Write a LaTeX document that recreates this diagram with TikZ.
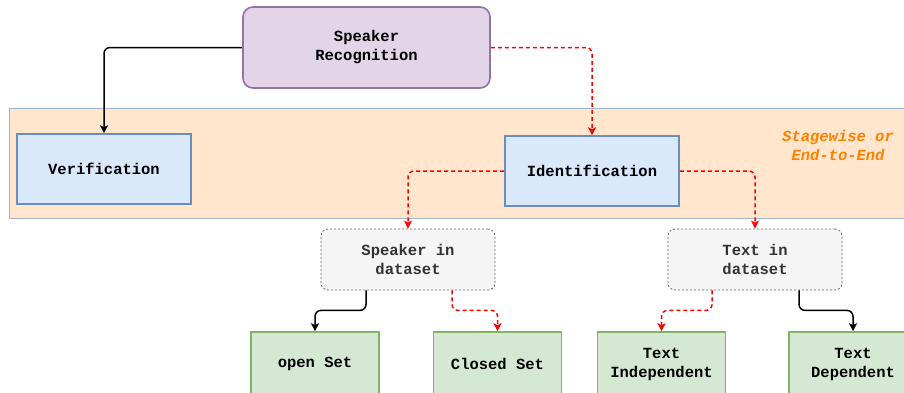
\documentclass[tikz,border=0pt]{standalone}
\usepackage{fontspec}
\setmonofont{Liberation Mono}
\usetikzlibrary{arrows.meta,calc}
\definecolor{srfill}{HTML}{E1D5E7}
\definecolor{srline}{HTML}{9673A6}
\definecolor{bandfill}{HTML}{FFE6CC}
\definecolor{bandline}{HTML}{A3B5C9}
\definecolor{bluefill}{HTML}{DAE8FC}
\definecolor{blueline}{HTML}{6C8EBF}
\definecolor{grayfill}{HTML}{F5F5F5}
\definecolor{grayline}{HTML}{666666}
\definecolor{graytext}{HTML}{333333}
\definecolor{greenfill}{HTML}{D5E8D4}
\definecolor{greenline}{HTML}{82B366}
\definecolor{orangetext}{HTML}{FF8000}
\definecolor{redline}{HTML}{FF0000}
\begin{document}
\begin{tikzpicture}[x=1pt,y=-1pt,
  font=\ttfamily\bfseries\fontsize{15.5}{19}\selectfont,
  basebox/.style={draw, line width=1.6pt, inner sep=0pt, align=center},
  purplebox/.style={basebox, fill=srfill, draw=srline, rounded corners=10pt, minimum width=247pt, minimum height=81pt},
  bluebox/.style={basebox, fill=bluefill, draw=blueline, minimum width=174pt, minimum height=70pt},
  graybox/.style={basebox, fill=grayfill, draw=grayline, line width=0.8pt, dash pattern=on 2pt off 2pt, rounded corners=7pt, minimum width=174pt, minimum height=61pt, text=graytext},
  greenbox/.style={basebox, fill=greenfill, draw=greenline, minimum width=128pt, minimum height=64pt},
  conn/.style={line width=1.5pt, rounded corners=6pt, -{Stealth[length=8pt,width=8pt,inset=2pt]}},
  blk/.style={conn, draw=black},
  rdash/.style={conn, draw=redline, dash pattern=on 4pt off 3pt, -{Stealth[length=8pt,width=8pt,inset=2pt,fill=redline]}},
]
\useasboundingbox (0,0) rectangle (904,392);
\fill[white] (0,0) rectangle (904,392);
% band
\filldraw[fill=bandfill, draw=bandline, line width=1pt] (9,108) rectangle (910,218);
% nodes
\node[purplebox] (sr) at (366.5,47.5) {Speaker\\Recognition};
\node[bluebox] (ver) at (104,169) {Verification};
\node[bluebox] (id) at (592,171) {Identification};
\node[font=\ttfamily\bfseries\itshape\fontsize{15.5}{19}\selectfont, text=orangetext, align=center] (sw) at (838,145) {Stagewise or\\End-to-End};
\node[graybox] (sd) at (408,259.5) {Speaker in\\dataset};
\node[graybox] (td) at (755,259.5) {Text in\\dataset};
\node[greenbox] (open) at (315,364) {open Set};
\node[greenbox] (closed) at (497.5,364) {Closed Set};
\node[greenbox] (ti) at (661.5,364) {Text\\Independent};
\node[greenbox] (tdep) at (853,364) {Text\\Dependent};
% connectors
\draw[blk] (sr.west) -| (ver.north);
\draw[rdash] (sr.east) -| (id.north);
\draw[rdash] (id.west) -| (sd.north);
\draw[rdash] (id.east) -| (td.north);
\draw[blk] ([xshift=-42pt]sd.south) -- ++(0,20) -| (open.north);
\draw[rdash] ([xshift=44pt]sd.south) -- ++(0,20) -| (closed.north);
\draw[rdash] ([xshift=-43pt]td.south) -- ++(0,20) -| (ti.north);
\draw[blk] ([xshift=44pt]td.south) -- ++(0,20) -| (tdep.north);
\end{tikzpicture}
\end{document}
